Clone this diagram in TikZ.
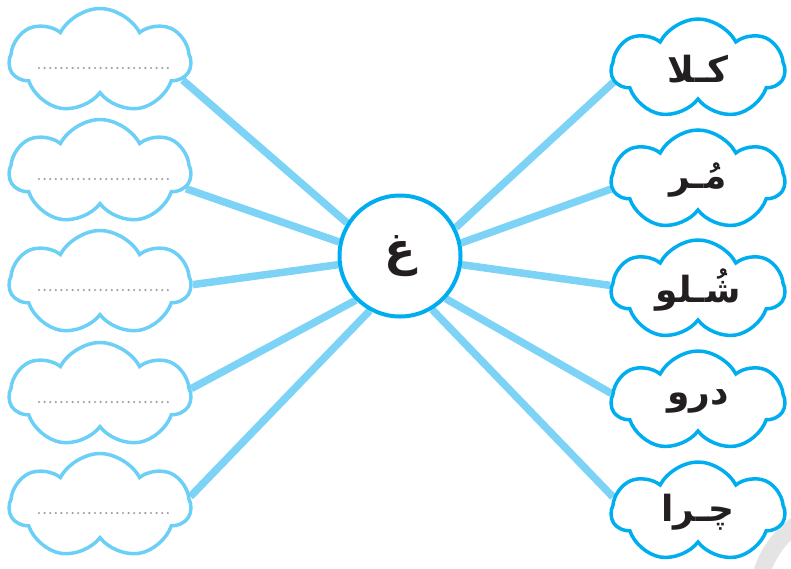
\documentclass[tikz,border=0pt]{standalone}
\usepackage{fontspec}
\newfontfamily\arabicfont[Script=Arabic]{DejaVu Sans}
\TeXXeTstate=1
\usepackage{xcolor}
\definecolor{cloudlt}{RGB}{108,207,246}
\definecolor{clouddk}{RGB}{0,174,239}
\definecolor{spokeblue}{RGB}{125,211,246}
\definecolor{ink}{RGB}{35,31,32}
\definecolor{markgray}{RGB}{228,228,228}
\usetikzlibrary{positioning,shapes.symbols,backgrounds}

\begin{document}
\begin{tikzpicture}[x=1pt,y=-1pt,
      puff/.style={cloud,cloud puffs=7,cloud puff arc=125,aspect=1.7,cloud ignores aspect,
                   shape border rotate=100,
                   line width=3.5pt,minimum width=181pt,minimum height=105pt,inner sep=0pt},
      blank/.style={puff,draw=cloudlt},
      word/.style={puff,draw=clouddk,minimum width=173pt,minimum height=100pt,
                   font=\arabicfont\bfseries\fontsize{36}{42}\selectfont,text=ink},
      hub/.style={circle,draw=clouddk,line width=4pt,fill=white,minimum size=121pt,
                  inner sep=0pt,font=\arabicfont\bfseries\fontsize{46}{52}\selectfont,text=ink},
      spoke/.style={draw=spokeblue,line width=7.5pt},
      dotline/.style={draw=gray!75,line width=2.4pt,line cap=round,dash pattern=on 0pt off 5.6pt}]
    \useasboundingbox (0,0) rectangle (791,568);
    % faint mark in the corner
    \begin{scope}
      \clip (0,0) rectangle (791,568);
      \node[circle,draw=markgray,line width=17pt,minimum size=185pt] (mark) at (850,600) {};
    \end{scope}
    % centre letter
    \node[hub] (g) at (400,256) {\beginR غ\endR};
    % empty clouds on the left
    \node[blank] (l1) at (100,61) {};
    \node[blank] (l2) at (100,172) {};
    \node[blank] (l3) at (100,283) {};
    \node[blank] (l4) at (100,395) {};
    \node[blank] (l5) at (100,506) {};
    \draw[dotline] ([shift={(-61,7)}]l1.center) -- ([shift={(72,7)}]l1.center);
    \draw[dotline] ([shift={(-61,7)}]l2.center) -- ([shift={(72,7)}]l2.center);
    \draw[dotline] ([shift={(-61,7)}]l3.center) -- ([shift={(72,7)}]l3.center);
    \draw[dotline] ([shift={(-61,7)}]l4.center) -- ([shift={(72,7)}]l4.center);
    \draw[dotline] ([shift={(-61,7)}]l5.center) -- ([shift={(72,7)}]l5.center);
    % word clouds on the right
    \node[word] (r1) at (698,69) {\beginR کـلا\endR};
    \node[word] (r2) at (698,180) {\beginR مُـر\endR};
    \node[word] (r3) at (698,290) {\beginR شُـلو\endR};
    \node[word] (r4) at (698,401) {\beginR درو\endR};
    \node[word] (r5) at (698,512) {\beginR چـرا\endR};
    \begin{scope}[on background layer]
      \draw[spoke] (g.148) -- (l1.-13);
      \draw[spoke] (g.167) -- (l2.-11);
      \draw[spoke] (g.188) -- (l3.-1);
      \draw[spoke] (g.225) -- (l4.4);
      \draw[spoke] (g.241) -- (l5.6);
      \draw[spoke] (g.27) -- (r1.189);
      \draw[spoke] (g.12) -- (r2.186);
      \draw[spoke] (g.-8) -- (r3.177);
      \draw[spoke] (g.-43) -- (r4.175);
      \draw[spoke] (g.-59) -- (r5.170);
    \end{scope}
  \end{tikzpicture}
\end{document}
